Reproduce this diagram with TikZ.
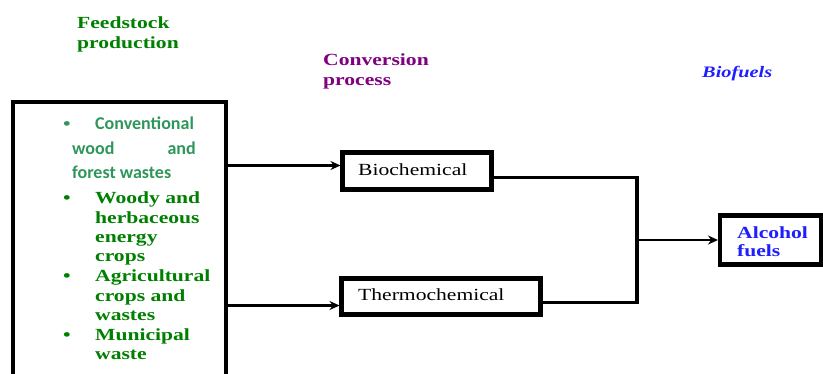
\documentclass[tikz,border=0pt]{standalone}
\usepackage{fontspec}
\setmainfont{Liberation Serif}[FakeStretch=1.27]
\newfontfamily\calfont{Carlito}
\usetikzlibrary{arrows.meta}
\definecolor{fgreen}{RGB}{0,128,0}
\definecolor{sgreen}{RGB}{46,150,90}
\definecolor{purp}{RGB}{128,0,128}
\definecolor{fblue}{RGB}{30,30,255}
\begin{document}
\begin{tikzpicture}[x=1pt,y=-1pt,
  txt/.style={anchor=base west,inner sep=0pt,font=\fontsize{17}{19.5}\selectfont},
  head/.style={txt,font=\fontsize{17}{19.5}\selectfont\bfseries},
  cal/.style={txt,font=\fontsize{18}{22}\selectfont\calfont\bfseries,text=sgreen},
  item/.style={head,text=fgreen},
  bul/.style={anchor=base,inner sep=0pt,font=\fontsize{17}{19.5}\selectfont\bfseries},
  box/.style={draw,line width=4.5pt,inner sep=0pt,outer sep=0pt,anchor=north west},
  arr/.style={line width=2.6pt,-{Stealth[length=10pt,width=9pt]},shorten >=2pt},
  link/.style={line width=3.6pt,line join=miter}]
\useasboundingbox (0,0) rectangle (823,373);
\clip (0,0) rectangle (823,373);

% headings
\node[head,text=fgreen] (h1a) at (77,28) {Feedstock};
\node[head,text=fgreen] (h1b) at (77,48) {production};
\node[head,text=purp] (h2a) at (323,65) {Conversion};
\node[head,text=purp] (h2b) at (323,85) {process};
\node[head,text=fblue,font=\fontsize{16}{19}\selectfont\bfseries\itshape] (h3) at (702,77) {Biofuels};

% boxes
\node[box,minimum width=213pt,minimum height=320pt] (feed) at (13,102) {};
\node[box,minimum width=149pt,minimum height=37pt] (bio) at (342.5,152.5) {};
\node[box,minimum width=199pt,minimum height=36pt] (thermo) at (341.5,278.5) {};
\node[box,minimum width=101pt,minimum height=49pt] (alc) at (720,215.5) {};

% box texts
\node[txt] (biot) at (358,175) {Biochemical};
\node[txt] (thermot) at (358,300) {Thermochemical};
\node[head,text=fblue] (alc1) at (737,238) {Alcohol};
\node[head,text=fblue] (alc2) at (737,256) {fuels};

% feedstock list
\node[bul,text=sgreen] (b1) at (67,129.3) {•};
\node[cal] (c1) at (95,129.3) {Conventional};
\node[cal] (c2) at (72,154.3) {wood};
\node[cal,anchor=base east] (c3) at (196,154.3) {and};
\node[cal] (c4) at (72,178) {forest wastes};

\node[bul,text=fgreen] (b2) at (67,203.3) {•};
\node[item] (w1) at (95,203.3) {Woody and};
\node[item] (w2) at (95,223) {herbaceous};
\node[item] (w3) at (95,242) {energy};
\node[item] (w4) at (95,261.7) {crops};
\node[bul,text=fgreen] (b3) at (67,281.5) {•};
\node[item] (g1) at (95,281.5) {Agricultural};
\node[item] (g2) at (95,301) {crops and};
\node[item] (g3) at (95,320.5) {wastes};
\node[bul,text=fgreen] (b4) at (67,340) {•};
\node[item] (m1) at (95,340) {Municipal};
\node[item] (m2) at (95,359.5) {waste};

% connectors
\coordinate (a1) at ([yshift=5.5pt]bio.west);
\coordinate (a2) at ([yshift=-9pt]thermo.west);
\draw[arr] (a1 -| feed.east) -- (a1);
\draw[arr] (a2 -| feed.east) -- (a2);
\coordinate (j) at (637,0 |- alc.west);
\draw[link] ([yshift=-6.5pt]bio.east) -| (j);
\draw[link] ([yshift=-6pt]thermo.east) -| (j);
\draw[arr] (j) -- (alc.west);
\end{tikzpicture}
\end{document}
